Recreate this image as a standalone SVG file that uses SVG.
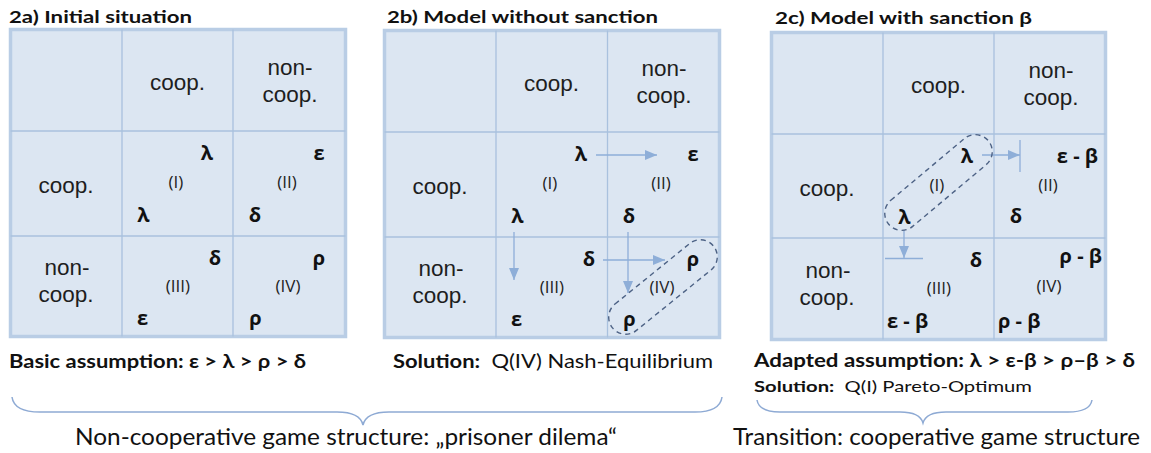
<svg xmlns="http://www.w3.org/2000/svg" width="1151" height="453" viewBox="0 0 1151 453">
<defs>
<style>
.frame{fill:#dce6f2;stroke:#b9cde5;stroke-width:3.5}
.grid{stroke:#a9c1de;stroke-width:1.3;fill:none}
.lbl{font-family:"Liberation Sans",Arial,sans-serif;font-size:22.5px;fill:#1e1e1e;text-anchor:middle}
.gk{font-family:"Open Sans","DejaVu Sans",sans-serif;font-size:20px;font-weight:bold;fill:#111}
.q{font-family:"Open Sans","DejaVu Sans",sans-serif;font-size:17px;fill:#222;text-anchor:middle}
.title{font-family:Lato,"Open Sans",sans-serif;font-size:17px;font-weight:bold;fill:#111}
.note{font-family:Lato,"Open Sans",sans-serif;fill:#111}
.arr{stroke:#8eaed8;stroke-width:1.3;fill:none}
.cap{fill:none;stroke:#4d6285;stroke-width:1.4;stroke-dasharray:5 4}
.brace{fill:none;stroke:#8eaad4;stroke-width:1.5}
</style>
<marker id="ah" markerUnits="userSpaceOnUse" markerWidth="12" markerHeight="10" refX="12" refY="5" orient="auto">
<path d="M0,0 L12,5 L0,10 z" fill="#8eaed8"/>
</marker>
</defs>

<g id="panel-a">
<text class="title" x="9" y="23" textLength="183" lengthAdjust="spacingAndGlyphs">2a) Initial situation</text>
<rect class="frame" x="10.5" y="29.5" width="335" height="307"/>
<path class="grid" d="M122,29.5V336.5M233,29.5V336.5M10.5,131H345.5M10.5,236H345.5"/>
<text class="lbl" x="177.5" y="90">coop.</text>
<text class="lbl" x="290" y="75">non-</text>
<text class="lbl" x="290" y="102">coop.</text>
<text class="lbl" x="66" y="193">coop.</text>
<text class="lbl" x="67" y="275">non-</text>
<text class="lbl" x="66" y="302">coop.</text>
<g id="a-cell-I"><text class="gk" x="207" y="160" text-anchor="middle">λ</text><text class="q" x="176" y="188">(I)</text><text class="gk" x="143.5" y="222" text-anchor="middle">λ</text></g>
<g id="a-cell-II"><text class="gk" x="319" y="160" text-anchor="middle">ε</text><text class="q" x="287" y="188">(II)</text><text class="gk" x="255" y="222" text-anchor="middle">δ</text></g>
<g id="a-cell-III"><text class="gk" x="215" y="265" text-anchor="middle">δ</text><text class="q" x="178" y="292">(III)</text><text class="gk" x="142.5" y="325" text-anchor="middle">ε</text></g>
<g id="a-cell-IV"><text class="gk" x="319" y="265" text-anchor="middle">ρ</text><text class="q" x="288" y="292">(IV)</text><text class="gk" x="255.5" y="325" text-anchor="middle">ρ</text></g>
</g>

<g id="panel-b">
<text class="title" x="387" y="23" textLength="271" lengthAdjust="spacingAndGlyphs">2b) Model without sanction</text>
<g transform="translate(374,1)">
<rect class="frame" x="10.5" y="29.5" width="335" height="307"/>
<path class="grid" d="M122,29.5V336.5M233.5,29.5V336.5M10.5,131H345.5M10.5,236H345.5"/>
<text class="lbl" x="177.5" y="90">coop.</text>
<text class="lbl" x="290" y="75">non-</text>
<text class="lbl" x="290" y="102">coop.</text>
<text class="lbl" x="66" y="193">coop.</text>
<text class="lbl" x="67" y="275">non-</text>
<text class="lbl" x="66" y="302">coop.</text>
<g id="b-cell-I"><text class="gk" x="207" y="160" text-anchor="middle">λ</text><text class="q" x="176" y="188">(I)</text><text class="gk" x="143.5" y="222" text-anchor="middle">λ</text></g>
<g id="b-cell-II"><text class="gk" x="319" y="160" text-anchor="middle">ε</text><text class="q" x="287" y="188">(II)</text><text class="gk" x="255" y="222" text-anchor="middle">δ</text></g>
<g id="b-cell-III"><text class="gk" x="215" y="265" text-anchor="middle">δ</text><text class="q" x="178" y="292">(III)</text><text class="gk" x="142.5" y="325" text-anchor="middle">ε</text></g>
<g id="b-cell-IV"><text class="gk" x="319" y="265" text-anchor="middle">ρ</text><text class="q" x="288" y="292">(IV)</text><text class="gk" x="255.5" y="325" text-anchor="middle">ρ</text></g>
</g>
</g>

<g id="panel-c">
<text class="title" x="775" y="24" textLength="257" lengthAdjust="spacingAndGlyphs">2c) Model with sanction β</text>
<g transform="translate(761,3)">
<rect class="frame" x="10.5" y="29.5" width="334" height="307"/>
<path class="grid" d="M122,29.5V336.5M233,29.5V336.5M10.5,131H344.5M10.5,235H344.5"/>
<text class="lbl" x="177.5" y="90">coop.</text>
<text class="lbl" x="290" y="75">non-</text>
<text class="lbl" x="290" y="102">coop.</text>
<text class="lbl" x="66" y="193">coop.</text>
<text class="lbl" x="67" y="275">non-</text>
<text class="lbl" x="66" y="302">coop.</text>
<g id="c-cell-I"><text class="gk" x="206" y="160" text-anchor="middle">λ</text><text class="q" x="176" y="188">(I)</text><text class="gk" x="143.5" y="221" text-anchor="middle">λ</text></g>
<g id="c-cell-II"><text class="gk" x="337" y="160" text-anchor="end">ε - β</text><text class="q" x="287" y="188">(II)</text><text class="gk" x="255" y="220" text-anchor="middle">δ</text></g>
<g id="c-cell-III"><text class="gk" x="215" y="264" text-anchor="middle">δ</text><text class="q" x="178" y="291">(III)</text><text class="gk" x="126" y="325">ε - β</text></g>
<g id="c-cell-IV"><text class="gk" x="341" y="260" text-anchor="end">ρ - β</text><text class="q" x="288" y="289">(IV)</text><text class="gk" x="237" y="325">ρ - β</text></g>
</g>
</g>

<g id="connectors">
<path class="arr" marker-end="url(#ah)" d="M596,155H657"/>
<path class="arr" marker-end="url(#ah)" d="M514,232V280"/>
<path class="arr" marker-end="url(#ah)" d="M628,232V293"/>
<path class="arr" marker-end="url(#ah)" d="M603,260H665"/>
<rect class="cap" x="598" y="270" width="130" height="34" rx="17" transform="rotate(-39 663 287)"/>
<path class="arr" marker-end="url(#ah)" d="M982,155H1020"/>
<path class="arr" d="M1020,140V172"/>
<path class="arr" marker-end="url(#ah)" d="M904,230V258"/>
<path class="arr" d="M885,258.5H923"/>
<rect class="cap" x="873.5" y="165.5" width="130" height="34" rx="17" transform="rotate(-40 938.5 182.5)"/>
<path class="brace" d="M12,397Q14,412 40,412L337,412Q360,412 363,425Q366,412 389,412L695,412Q720,412 722,397"/>
<path class="brace" d="M757,400Q759,412 780,412L900,412Q920,412 923,423Q926,412 946,412L1068,412Q1090,412 1092,400"/>
</g>

<g id="notes">
<text class="note" x="9" y="368" font-size="18" font-weight="bold" textLength="297" lengthAdjust="spacingAndGlyphs">Basic assumption:  ε &gt; λ &gt; ρ &gt; δ</text>
<text class="note" x="393" y="368" font-size="19" xml:space="preserve" textLength="320" lengthAdjust="spacingAndGlyphs"><tspan font-weight="bold">Solution:</tspan>  Q(IV) Nash-Equilibrium</text>
<text class="note" x="754" y="367" font-size="18" font-weight="bold" textLength="381" lengthAdjust="spacingAndGlyphs">Adapted assumption:  λ &gt; ε-β &gt; ρ–β &gt; δ</text>
<text class="note" x="754" y="392" font-size="16" xml:space="preserve" textLength="278" lengthAdjust="spacingAndGlyphs"><tspan font-weight="bold">Solution:</tspan>  Q(I) Pareto-Optimum</text>
<text class="note" x="75" y="445" font-size="23" textLength="542" lengthAdjust="spacingAndGlyphs">Non-cooperative game structure: „prisoner dilema“</text>
<text class="note" x="733" y="445" font-size="23" textLength="407" lengthAdjust="spacingAndGlyphs">Transition: cooperative game structure</text>
</g>
</svg>
